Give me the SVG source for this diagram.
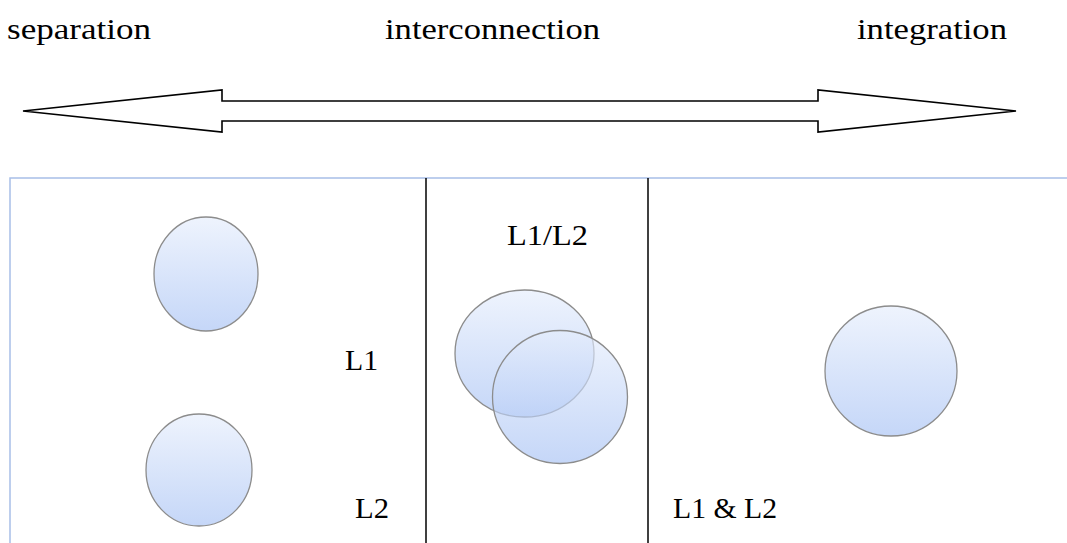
<svg xmlns="http://www.w3.org/2000/svg" width="1067" height="543" viewBox="0 0 1067 543">
<defs>
<linearGradient id="bub" x1="0" y1="0" x2="0" y2="1">
<stop offset="0" stop-color="#e5edfc"/>
<stop offset="1" stop-color="#a6c1f4"/>
</linearGradient>
<style>
.t{font-family:"Liberation Serif","DejaVu Serif",serif;font-size:30px;fill:#000}
.c{fill:url(#bub);fill-opacity:0.65;stroke:#8c8c8c;stroke-width:1.3}
.d{stroke:#000;stroke-width:1.5;fill:none}
</style>
</defs>
<rect width="1067" height="543" fill="#fff"/>
<g id="labels">
<text class="t" x="7" y="39" textLength="144" lengthAdjust="spacingAndGlyphs">separation</text>
<text class="t" x="385" y="39" textLength="215" lengthAdjust="spacingAndGlyphs">interconnection</text>
<text class="t" x="857" y="39" textLength="150" lengthAdjust="spacingAndGlyphs">integration</text>
</g>
<g id="arrow">
<polygon points="23,111 222,90 222,101 818,101 818,90 1016,111 818,132 818,121 222,121 222,132" fill="#fff" stroke="#000" stroke-width="1.6"/>
</g>
<g id="frame">
<polyline points="10,543 10,178 1067,178" fill="none" stroke="#a8bfe8" stroke-width="1.5"/>
<line class="d" x1="426" y1="178" x2="426" y2="543"/>
<line class="d" x1="648" y1="178" x2="648" y2="543"/>
</g>
<g id="separation">
<ellipse class="c" cx="206" cy="274" rx="52" ry="57"/>
<ellipse class="c" cx="199" cy="470" rx="53" ry="56"/>
<text class="t" x="345" y="370" textLength="33" lengthAdjust="spacingAndGlyphs">L1</text>
<text class="t" x="355" y="518" textLength="34" lengthAdjust="spacingAndGlyphs">L2</text>
</g>
<g id="interconnection">
<ellipse class="c" cx="524.5" cy="353.5" rx="69.5" ry="63.5"/>
<ellipse class="c" cx="560" cy="397" rx="67.5" ry="66.5"/>
<text class="t" x="507" y="245" textLength="81" lengthAdjust="spacingAndGlyphs">L1/L2</text>
</g>
<g id="integration">
<ellipse class="c" cx="891" cy="371" rx="66" ry="65"/>
<text class="t" x="673" y="518" textLength="104" lengthAdjust="spacingAndGlyphs">L1 &amp; L2</text>
</g>
</svg>
